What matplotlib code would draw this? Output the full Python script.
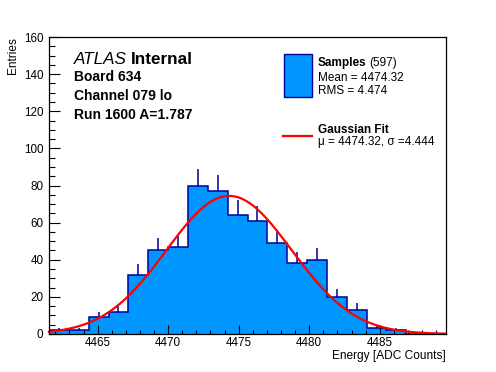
import matplotlib
matplotlib.use("Agg")
import matplotlib.pyplot as plt
from matplotlib.patches import Rectangle
from matplotlib.lines import Line2D
from matplotlib.ticker import MultipleLocator
import numpy as np

plt.rcParams['font.family'] = ['Liberation Sans', 'DejaVu Sans']

# Histogram data (20 bins spanning the whole x range)
x_lo = 4461.55
x_hi = 4489.70
counts = [2, 2, 9, 12, 32, 45, 47, 80, 77, 64,
          61, 49, 38, 40, 20, 13, 3, 2, 0, 0]

# Gaussian fit parameters
fit_mu = 4474.32
fit_sigma = 4.444
fit_amp = 74.4

# Text
board_lines = ["Board 634", "Channel 079 lo", "Run 1600 A=1.787"]
n_samples = 597
mean_txt = "Mean = 4474.32"
rms_txt = "RMS = 4.474"
fit_txt = "\u03bc = 4474.32, \u03c3 =4.444"

fill_col = '#0096ff'
edge_col = '#00009a'
fit_col = '#ff0000'

W, H = 496, 372
fig = plt.figure(figsize=(W / 100, H / 100), dpi=100)
ax = fig.add_axes([49 / W, 1 - 334 / H, 397 / W, 297 / H])


def fx(px):
    return px / W


def fy(py):
    return 1 - py / H


counts = np.array(counts, dtype=float)
edges = np.linspace(x_lo, x_hi, len(counts) + 1)
centers = 0.5 * (edges[:-1] + edges[1:])

ax.stairs(counts, edges, fill=True, color=fill_col, lw=0)
ax.stairs(counts, edges, fill=False, color=edge_col, lw=1.1, baseline=0)
nz = counts > 0
ax.vlines(centers[nz], counts[nz], counts[nz] + np.sqrt(counts[nz]),
          color=edge_col, lw=1.1)

xs = np.linspace(x_lo, x_hi, 500)
ax.plot(xs, fit_amp * np.exp(-0.5 * ((xs - fit_mu) / fit_sigma) ** 2),
        color=fit_col, lw=1.6, clip_on=False)

ax.set_xlim(x_lo, x_hi)
ax.set_ylim(0, 160)
ax.xaxis.set_major_locator(MultipleLocator(5))
ax.xaxis.set_minor_locator(MultipleLocator(1))
ax.yaxis.set_major_locator(MultipleLocator(20))
ax.yaxis.set_minor_locator(MultipleLocator(5))
ax.tick_params(axis='x', which='major', direction='in', length=6.5, width=0.8,
               labelsize=8.4, pad=2.5)
ax.tick_params(axis='x', which='minor', direction='in', length=3.2, width=0.8)
ax.tick_params(axis='y', which='major', direction='in', length=7.9, width=0.8,
               labelsize=8.4, pad=4)
ax.tick_params(axis='y', which='minor', direction='in', length=4.0, width=0.8)
for s in ax.spines.values():
    s.set_linewidth(0.9)

ax.set_xlabel("Energy [ADC Counts]", fontsize=8.6, loc='right')
ax.xaxis.set_label_coords(1.0, -0.054)
ax.set_ylabel("Entries", fontsize=8.6, loc='top')
ax.yaxis.set_label_coords(-0.075, 1.0)

# ATLAS label block
t = fig.text(fx(74), fy(63.5), "ATLAS", fontsize=12.3, style='italic',
             va='baseline')
fig.canvas.draw()
bb = t.get_window_extent()
fig.text(bb.x1 / W + 4 / W, fy(63.5), "Internal", fontsize=12.3,
         fontweight='bold', va='baseline')
for i, line in enumerate(board_lines):
    fig.text(fx(74.5), fy(81 + 19 * i), line, fontsize=10, fontweight='bold',
             va='baseline')

# Legend
fig.add_artist(Rectangle((fx(283.5), fy(96.5)), 28 / W, 43 / H,
                         transform=fig.transFigure, facecolor=fill_col,
                         edgecolor=edge_col, lw=1.0))
s = fig.text(fx(317.5), fy(66), "Samples", fontsize=8.5, fontweight='bold',
             va='baseline')
fig.canvas.draw()
bb = s.get_window_extent()
fig.text(bb.x1 / W + 3 / W, fy(66), "(%d)" % n_samples, fontsize=8.5,
         va='baseline')
fig.text(fx(317.5), fy(81), mean_txt, fontsize=8.5, va='baseline')
fig.text(fx(317.5), fy(94), rms_txt, fontsize=8.5, va='baseline')

fig.add_artist(Line2D([fx(283), fx(312)], [fy(136), fy(136)],
                      transform=fig.transFigure, color=fit_col, lw=1.6))
fig.text(fx(317.5), fy(133), "Gaussian Fit", fontsize=8.5, fontweight='bold',
         va='baseline')
fig.text(fx(317.5), fy(145), fit_txt, fontsize=8.5, va='baseline')

fig.savefig("out.png", dpi=100)
